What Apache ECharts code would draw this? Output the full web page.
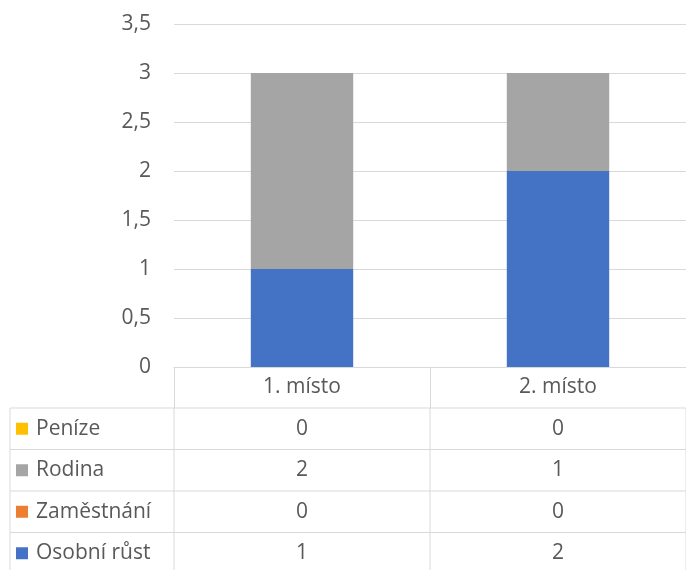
<!DOCTYPE html>
<html>
<head>
<meta charset="utf-8">
<style>
  html, body { margin: 0; padding: 0; background: #fff; }
  #chart { width: 686px; height: 570px; }
</style>
<script src="https://cdn.jsdelivr.net/npm/echarts@6/dist/echarts.min.js"></script>
</head>
<body>
<div id="chart"></div>
<script>
// data
var categories = ['1. místo', '2. místo']
var seriesNames = ['Osobní růst', 'Zaměstnání', 'Rodina', 'Peníze']
var osobniRust = [1, 2]
var zamestnani = [0, 0]
var rodina = [2, 1]
var penize = [0, 0]
var colors = ['#4472C4', '#ED7D31', '#A5A5A5', '#FFC000']

var seriesData = [osobniRust, zamestnani, rodina, penize]
var FONT = '"Open Sans", sans-serif'
var FS = 21
var TEXT = '#595959'
var LINE = '#d9d9d9'

var chart = echarts.init(document.getElementById('chart'))

var option = {
  animation: false,
  grid: { left: 174, top: 24, width: 516, height: 343 },
  xAxis: {
    type: 'category',
    data: categories,
    axisLine: { lineStyle: { color: LINE, width: 1 } },
    axisTick: { show: true, length: 41, lineStyle: { color: LINE } },
    axisLabel: { color: TEXT, fontSize: FS, fontFamily: FONT, margin: 10 }
  },
  yAxis: {
    type: 'value',
    min: 0,
    max: 3.5,
    interval: 0.5,
    axisLine: { show: false },
    axisTick: { show: false },
    splitLine: { lineStyle: { color: LINE } },
    axisLabel: {
      color: TEXT, fontSize: FS, fontFamily: FONT, margin: 23,
      formatter: function (v) { return String(v).replace('.', ',') }
    }
  },
  series: seriesNames.map(function (name, i) {
    return {
      name: name,
      type: 'bar',
      stack: 'total',
      barWidth: '40%',
      itemStyle: { color: colors[i] },
      data: seriesData[i]
    }
  })
}
chart.setOption(option)

// data table under the axis, positioned from the category scale
function buildTable() {
  var centers = categories.map(function (c) {
    return chart.convertToPixel({ xAxisIndex: 0 }, c)
  })
  var band = centers[1] - centers[0]
  var x0 = centers[0] - band / 2
  var xEnd = centers[centers.length - 1] + band / 2
  var yBase = chart.convertToPixel({ yAxisIndex: 0 }, 0)
  var headerH = 41
  var rowH = 41.5
  var leftX = 10
  var elements = []
  // table rows top to bottom: reverse of stack order
  var rows = seriesNames.map(function (n, i) { return i }).reverse()
  var top = yBase + headerH
  function line(x1, y1, x2, y2) {
    elements.push({
      type: 'line', silent: true,
      shape: { x1: x1, y1: y1, x2: x2, y2: y2 },
      style: { stroke: LINE, lineWidth: 1 }
    })
  }
  var bottom = top + rowH * rows.length
  rows.forEach(function (si, r) {
    var y = top + r * rowH
    line(leftX, y, xEnd, y)
    var cy = y + rowH / 2
    elements.push({
      type: 'rect', silent: true,
      shape: { x: 16, y: cy - 6, width: 12, height: 12 },
      style: { fill: colors[si] }
    })
    elements.push({
      type: 'text', silent: true,
      x: 36, y: cy,
      style: { text: seriesNames[si], fill: TEXT, font: FS + 'px ' + FONT, verticalAlign: 'middle' }
    })
    centers.forEach(function (cx, c) {
      elements.push({
        type: 'text', silent: true,
        x: cx, y: cy,
        style: { text: String(seriesData[si][c]), fill: TEXT, font: FS + 'px ' + FONT, align: 'center', verticalAlign: 'middle' }
      })
    })
  })
  line(leftX, top, leftX, bottom)
  line(x0, yBase + headerH, x0, bottom)
  centers.forEach(function (cx) {
    line(cx + band / 2, yBase + headerH, cx + band / 2, bottom)
  })
  chart.setOption({ graphic: { elements: elements } })
}
buildTable()
</script>
</body>
</html>
